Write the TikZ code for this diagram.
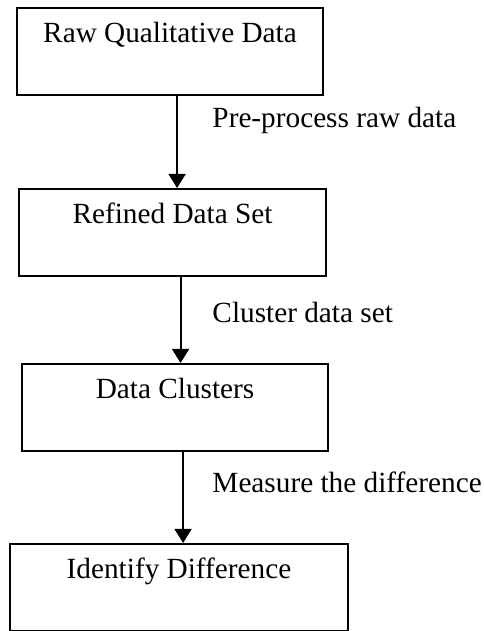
\documentclass[tikz,border=0pt]{standalone}
\usepackage{fontspec}
\setmainfont{Liberation Serif}
\usetikzlibrary{arrows.meta}

\tikzset{
  stagebox/.style={draw, line width=0.8pt, inner sep=0pt, anchor=north west,
    text height=14.35pt, text depth=21.3pt},
  steplabel/.style={anchor=base west, inner sep=0pt},
}

\begin{document}
\begin{tikzpicture}[x=0.41pt, y=-0.41pt, >={Triangle[length=5.8pt,width=7pt]},
  font=\fontsize{12pt}{14pt}\selectfont]

  % page frame (pixel grid of the reference)
  \useasboundingbox (0,0) rectangle (485,631);

  % the four stages
  \node[stagebox, minimum width=125.5pt] (raw) at (16,7) {Raw Qualitative Data};
  \node[stagebox, minimum width=125.9pt] (refined) at (18,188) {Refined Data Set};
  \node[stagebox, minimum width=125.5pt] (clusters) at (21,363) {Data Clusters};
  \node[stagebox, minimum width=138.6pt] (identify) at (9,543) {Identify Difference};

  % arrows between stages
  \draw[->, line width=0.8pt] ([xshift=2.9pt]raw.south) -- ([xshift=2.9pt]raw.south |- refined.north);
  \draw[->, line width=0.8pt] ([xshift=3.3pt]refined.south) -- ([xshift=3.3pt]refined.south |- clusters.north);
  \draw[->, line width=0.8pt] ([xshift=3.3pt]clusters.south) -- ([xshift=3.3pt]clusters.south |- identify.north);

  % step labels beside the arrows
  \node[steplabel] (preprocess) at (212,127) {Pre-process raw data};
  \node[steplabel] (cluster) at (212,322) {Cluster data set};
  \node[steplabel] (measure) at (212,492) {Measure the difference};

\end{tikzpicture}
\end{document}
